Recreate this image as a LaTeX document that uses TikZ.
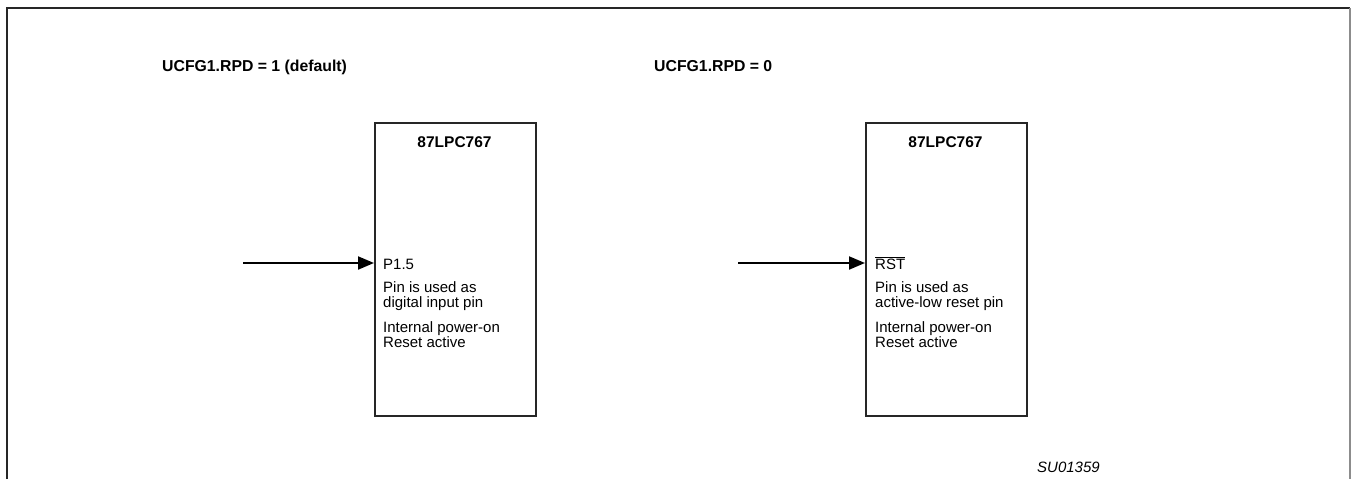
\documentclass[tikz,border=0pt]{standalone}
\usepackage{fontspec}
\setmainfont{Liberation Sans}
\usetikzlibrary{arrows.meta}
\begin{document}
\begin{tikzpicture}[x=1pt,y=-1pt,
  frame/.style={line width=2pt,draw=black!85},
  chip/.style={draw=black!85,line width=2pt,minimum width=161pt,minimum height=293pt,inner sep=0pt,anchor=north west},
  arr/.style={line width=2pt,-{Triangle[length=16pt,width=13pt]}},
  hdr/.style={font=\fontsize{15.8}{16}\selectfont\bfseries,anchor=base west,inner sep=0pt},
  chipname/.style={font=\fontsize{15.5}{16}\selectfont\bfseries,anchor=base,inner sep=0pt},
  txt/.style={font=\fontsize{15}{15}\selectfont,anchor=base west,inner sep=0pt},
  tag/.style={font=\fontsize{15}{15}\selectfont\itshape,anchor=base west,inner sep=0pt}]
\useasboundingbox (0,0) rectangle (1351,479);
% frame
\draw[frame] (7,479) -- (7,8) -- (1350,8);
\draw[line width=2pt,draw=black!45] (1350,8) -- (1350,479);
% headers
\node[hdr] (h1) at (162,71) {UCFG1.RPD = 1 (default)};
\node[hdr] (h2) at (654,71) {UCFG1.RPD = 0};
% chips
\node[chip] (box1) at (374,122) {};
\node[chip] (box2) at (865,122) {};
\node[chipname] (n1) at (454.5,147) {87LPC767};
\node[chipname] (n2) at (945.5,147) {87LPC767};
% inputs
\coordinate (in1) at (243,263);
\coordinate (in2) at (738,263);
\draw[arr] (in1) -- (in1 -| box1.west);
\draw[arr] (in2) -- (in2 -| box2.west);
% texts box 1
\node[txt] (a1) at (383,269) {P1.5};
\node[txt] (a2) at (383,292) {Pin is used as};
\node[txt] (a3) at (383,307) {digital input pin};
\node[txt] (a4) at (383,332) {Internal power-on};
\node[txt] (a5) at (383,347) {Reset active};
% texts box 2
\node[txt] (b1) at (875,269) {$\overline{\mbox{RST}}$};
\node[txt] (b2) at (875,292) {Pin is used as};
\node[txt] (b3) at (875,307) {active-low reset pin};
\node[txt] (b4) at (875,332) {Internal power-on};
\node[txt] (b5) at (875,347) {Reset active};
% tag
\node[tag] (t) at (1037,472) {SU01359};
\end{tikzpicture}
\end{document}
